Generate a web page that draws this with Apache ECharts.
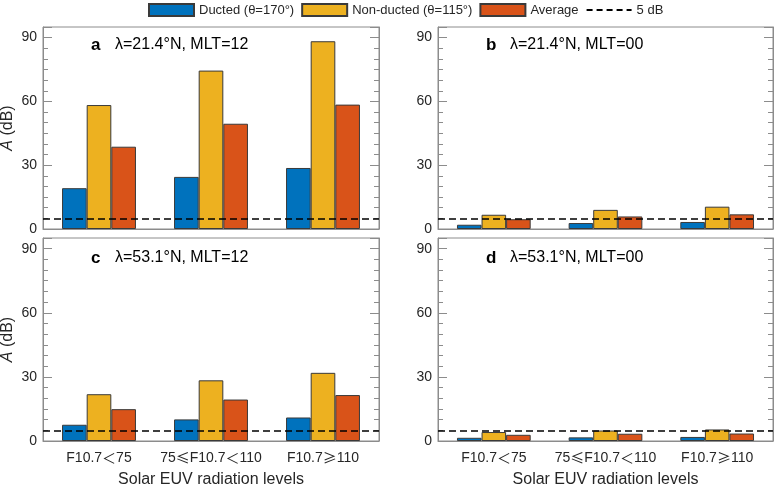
<!DOCTYPE html>
<html>
<head>
<meta charset="utf-8">
<script src="https://cdn.jsdelivr.net/npm/echarts@6/dist/echarts.min.js"></script>
<style>
html,body{margin:0;padding:0;background:#fff;}
#chart{width:775px;height:485px;}
</style>
</head>
<body>
<div id="chart"></div>
<script>
// ---- data ----
const categories = ['F10.7＜75', '75≤F10.7＜110', 'F10.7≥110'];
const seriesNames = ['Ducted (θ=170°)', 'Non-ducted (θ=115°)', 'Average'];
const thresholdName = '5 dB';
const threshold = 5;

const ductedA = [19.2, 24.5, 28.7];
const nonDuctedA = [58.3, 74.5, 88.3];
const averageA = [38.7, 49.5, 58.5];

const ductedB = [2.0, 2.8, 3.3];
const nonDuctedB = [6.7, 9.0, 10.5];
const averageB = [4.6, 5.9, 6.9];

const ductedC = [7.6, 10.1, 11.0];
const nonDuctedC = [21.9, 28.4, 31.9];
const averageC = [14.9, 19.4, 21.5];

const ductedD = [1.5, 1.7, 1.9];
const nonDuctedD = [4.2, 4.9, 5.4];
const averageD = [2.9, 3.4, 3.5];

const panelLetters = ['a', 'b', 'c', 'd'];
const panelTitles = ['λ=21.4°N, MLT=12', 'λ=21.4°N, MLT=00', 'λ=53.1°N, MLT=12', 'λ=53.1°N, MLT=00'];
const yMin = 0, yMax = 95, yInterval = 30;
const xName = 'Solar EUV radiation levels';

// ---- layout / style ----
const panelData = [
  [ductedA, nonDuctedA, averageA],
  [ductedB, nonDuctedB, averageB],
  [ductedC, nonDuctedC, averageC],
  [ductedD, nonDuctedD, averageD]
];
const colors = ['#0072BD', '#EDB120', '#D95319'];
const FONT = '"Liberation Sans", Arial, sans-serif';
const textColor = '#262626';
const axisGray = '#8c8c8c';

const grids = [
  {left: 43, top: 27, width: 336, height: 202},
  {left: 438, top: 27, width: 335, height: 202},
  {left: 43, top: 238, width: 336, height: 203},
  {left: 438, top: 238, width: 335, height: 203}
].map(g => Object.assign(g, {show: true, borderColor: axisGray, borderWidth: 1,
  backgroundColor: 'transparent', containLabel: false, outerBoundsMode: 'none'}));
const titleTops = [10, 10, 12, 12];

function fmtCat(v) {
  return v.replace(/([＜≤≥])/g, '{s|$1}');
}

const xAxes = [], yAxes = [], series = [], titles = [];
for (let i = 0; i < 4; i++) {
  const bottom = i >= 2;
  xAxes.push({
    type: 'category', gridIndex: i, data: categories,
    axisTick: {show: false},
    axisLine: {show: true, lineStyle: {color: axisGray}},
    axisLabel: {
      show: bottom, interval: 0, margin: 10, fontSize: 14, color: textColor, fontFamily: FONT,
      formatter: fmtCat,
      rich: {s: {fontSize: 14, color: textColor, fontFamily: '"Noto Sans CJK SC", sans-serif'}}
    },
    name: bottom ? xName : '', nameLocation: 'middle', nameGap: 31,
    nameTextStyle: {fontSize: 16, color: textColor, fontFamily: FONT}
  });
  const common = {
    type: 'value', gridIndex: i, min: yMin, max: yMax, interval: yInterval,
    splitLine: {show: false},
    axisLine: {show: true, lineStyle: {color: axisGray}},
    axisTick: {show: true, inside: true, length: 9, lineStyle: {color: axisGray}},
    minorTick: {show: true, splitNumber: 6, length: 5, lineStyle: {color: axisGray}},
    minorSplitLine: {show: false}
  };
  yAxes.push(Object.assign({}, common, {
    position: 'left',
    axisLabel: {show: true, showMaxLabel: false, margin: 6, fontSize: 14, color: textColor, fontFamily: FONT},
    name: (i % 2 === 0) ? '{i|A} (dB)' : '',
    nameLocation: 'middle', nameGap: 27, nameRotate: 90,
    nameTextStyle: {fontSize: 16, color: textColor, fontFamily: FONT,
      rich: {i: {fontStyle: 'italic', fontSize: 16, color: textColor, fontFamily: FONT}}}
  }));
  yAxes.push(Object.assign({}, common, {
    position: 'right',
    axisLabel: {show: false}
  }));
  for (let k = 0; k < 3; k++) {
    series.push({
      name: seriesNames[k], type: 'bar', xAxisIndex: i, yAxisIndex: 2 * i,
      data: panelData[i][k],
      barGap: '0%', barCategoryGap: '34%',
      itemStyle: {color: colors[k], borderColor: '#3a3a3a', borderWidth: 1},
      emphasis: {disabled: true}
    });
  }
  series.push({
    name: thresholdName, type: 'line', xAxisIndex: i, yAxisIndex: 2 * i,
    data: [], symbol: 'none',
    lineStyle: {color: '#000', type: [6, 4], width: 1.5},
    itemStyle: {color: '#000'},
    markLine: {
      silent: true, symbol: 'none', label: {show: false},
      lineStyle: {color: '#000', type: [7, 4], width: 1.5},
      data: [{yAxis: threshold}]
    }
  });
  const g = grids[i];
  titles.push({
    text: panelLetters[i], left: g.left + 48, top: g.top + titleTops[i], padding: 0,
    textStyle: {fontSize: 17, fontWeight: 'bold', color: '#000', fontFamily: FONT}
  });
  titles.push({
    text: panelTitles[i], left: g.left + 72, top: g.top + titleTops[i], padding: 0,
    textStyle: {fontSize: 16, fontWeight: 'normal', color: '#000', fontFamily: FONT}
  });
}

const legendData = seriesNames.map(n => ({name: n, icon: 'rect'}));
legendData.push({name: thresholdName, itemStyle: {opacity: 0}});

const chart = echarts.init(document.getElementById('chart'), null, {renderer: 'canvas'});
chart.setOption({
  animation: false,
  backgroundColor: '#fff',
  title: titles,
  legend: {
    left: 148, top: 3, padding: 0, itemWidth: 45, itemHeight: 12, itemGap: 7,
    data: legendData,
    textStyle: {fontSize: 13, color: textColor, fontFamily: FONT},
    selectedMode: false
  },
  grid: grids,
  xAxis: xAxes,
  yAxis: yAxes,
  series: series
});
</script>
</body>
</html>
